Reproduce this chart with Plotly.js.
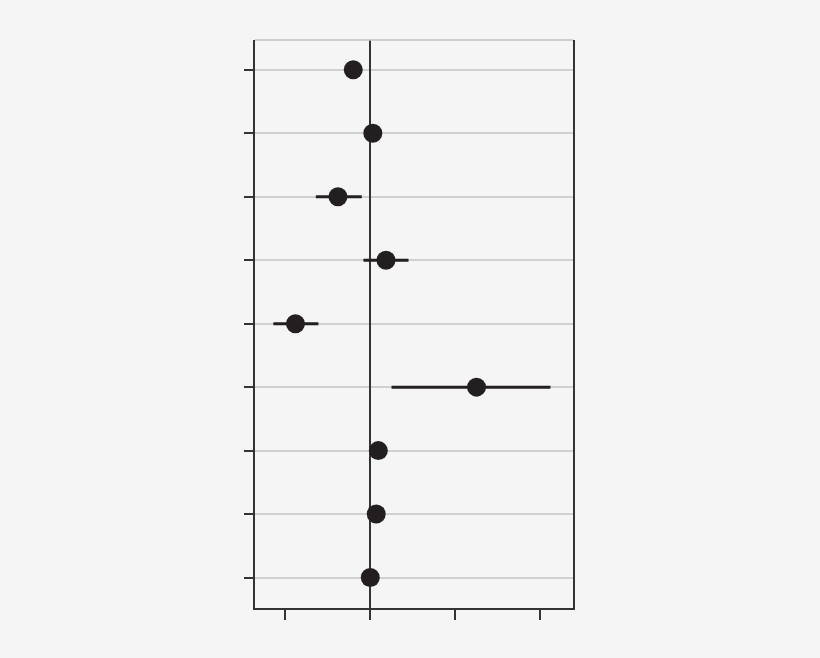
<!DOCTYPE html>
<html>
<head>
<meta charset="utf-8">
<script src="https://cdn.plot.ly/plotly-3.0.1.min.js"></script>
<style>html,body{margin:0;padding:0;background:#f5f5f5;}#chart{width:820px;height:658px;}</style>
</head>
<body>
<div id="chart"></div>
<script>
// Rows from top (1) to bottom (9)
const rows = [1, 2, 3, 4, 5, 6, 7, 8, 9];
const estimates = [-0.20, 0.03, -0.38, 0.185, -0.88, 1.25, 0.095, 0.07, 0.0];
const lowerCI = [-0.20, 0.03, -0.64, -0.08, -1.14, 0.25, 0.095, 0.07, 0.0];
const upperCI = [-0.20, 0.03, -0.10, 0.45, -0.61, 2.12, 0.095, 0.07, 0.0];
const xTicks = [-1, 0, 1, 2];

const errPlus = estimates.map((e, i) => upperCI[i] - e);
const errMinus = estimates.map((e, i) => e - lowerCI[i]);

const dark = '#231f20';
const trace = {
  type: 'scatter',
  mode: 'markers',
  x: estimates,
  y: rows,
  marker: {color: dark, size: 19},
  error_x: {type: 'data', symmetric: false, array: errPlus, arrayminus: errMinus,
            color: dark, thickness: 3, width: 0},
  hoverinfo: 'x'
};

const layout = {
  width: 820, height: 658,
  paper_bgcolor: '#f5f5f5', plot_bgcolor: '#f5f5f5',
  margin: {l: 255, r: 247, t: 40, b: 50},
  showlegend: false,
  xaxis: {
    range: [-1.356, 2.385], tickvals: xTicks, showticklabels: false,
    ticks: 'outside', ticklen: 10, tickwidth: 2, tickcolor: '#333',
    showgrid: false, zeroline: true, zerolinecolor: '#333', zerolinewidth: 2,
    showline: true, linecolor: '#333', linewidth: 2
  },
  yaxis: {
    range: [9.48, 0.53], tickvals: rows, showticklabels: false,
    ticks: 'outside', ticklen: 9, tickwidth: 2, tickcolor: '#333',
    showgrid: true, gridcolor: '#d0d0d0', gridwidth: 2,
    zeroline: false, showline: true, mirror: true, linecolor: '#333', linewidth: 2
  },
  shapes: [{type: 'line', xref: 'paper', yref: 'paper', x0: 0, x1: 1, y0: 1, y1: 1,
            line: {color: '#c0c0c0', width: 1.5}}]
};

Plotly.newPlot('chart', [trace], layout, {displayModeBar: false, staticPlot: true});
</script>
</body>
</html>
